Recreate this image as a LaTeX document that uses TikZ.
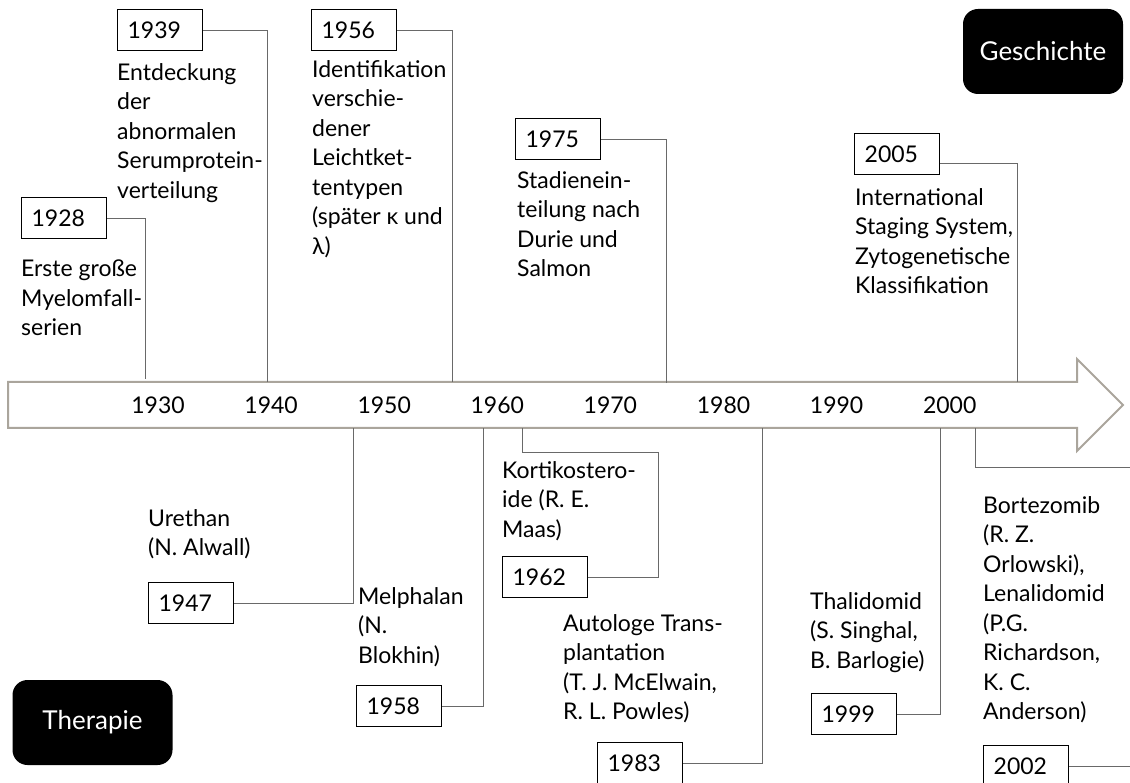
\documentclass[tikz,border=0pt]{standalone}
\usepackage{fontspec}
\setmainfont{Lato}
\usetikzlibrary{positioning}
\definecolor{axisgray}{RGB}{170,165,156}
\definecolor{linkgray}{RGB}{105,105,105}
\tikzset{
	every node/.style={font=\fontsize{23}{29.5}\selectfont},
	yearbox/.style={draw=black, line width=1.3pt, anchor=north west, minimum width=85pt, minimum height=41pt, inner xsep=10pt, text width=65pt, align=left},
	event/.style={anchor=north west, inner sep=0pt, align=left, execute at begin node=\strut},
	link/.style={draw=linkgray, line width=1pt},
	tag/.style={fill=black, text=white, rounded corners=15pt, minimum width=160pt, minimum height=85pt, font=\fontsize{26}{30}\selectfont}
}

\begin{document}
\begin{tikzpicture}[x=1pt,y=-1pt]
	\useasboundingbox (0,0) rectangle (1130,783);
	\draw[axisgray, line width=2pt, fill=white] (8,382) -- (1077,382) -- (1077,359) -- (1123,405) -- (1077,451) -- (1077,428) -- (8,428) -- cycle;
	\foreach \yr in {1930,1940,...,2000}
		\node (d\yr) at ({158+(\yr-1930)*11.31},405) {\yr};

	\coordinate (a1928) at (145,379);
	\coordinate (a1939) at (267,382);
	\coordinate (a1956) at (452,382);
	\coordinate (a1975) at (666,383);
	\coordinate (a2005) at (1017,382);
	\coordinate (a1947) at (353,428);
	\coordinate (a1958) at (483,428);
	\coordinate (a1962) at (522,428);
	\coordinate (a1983) at (762,428);
	\coordinate (a1999) at (940,428);
	\coordinate (a2002) at (975,428);
	\coordinate (k1962) at (658,452);
	\coordinate (e2002) at (1130,467);
	\coordinate (rim) at (1130,0);

	\node[yearbox] (y1928) at (21,197) {1928};
	\node[yearbox] (y1939) at (117,9) {1939};
	\node[yearbox] (y1956) at (311,9) {1956};
	\node[yearbox] (y1975) at (515,118) {1975};
	\node[yearbox] (y2005) at (854,133) {2005};
	\node[yearbox] (y1947) at (148,582) {1947};
	\node[yearbox] (y1958) at (356,685) {1958};
	\node[yearbox] (y1962) at (502,556) {1962};
	\node[yearbox] (y1983) at (597,742) {1983};
	\node[yearbox] (y1999) at (811,693) {1999};
	\node[yearbox] (y2002) at (983,745) {2002};

	\node[event] (t1928) at (21,260) {Erste große\\Myelomfall-\\serien};
	\node[event] (t1939) at (117,63) {Entdeckung\\der\\abnormalen\\Serumprotein-\\verteilung};
	\node[event] (t1956) at (312,60) {Identifikation\\verschie-\\dener\\Leichtket-\\tentypen\\(später κ und\\λ)};
	\node[event] (t1975) at (517,171) {Stadienein-\\teilung nach\\Durie und\\Salmon};
	\node[event] (t2005) at (855,188) {International\\Staging System,\\Zytogenetische\\Klassifikation};
	\node[event] (t1947) at (148,509) {Urethan\\(N. Alwall)};
	\node[event] (t1958) at (358,587) {Melphalan\\(N.\\Blokhin)};
	\node[event] (t1962) at (502,461) {Kortikostero-\\ide (R. E.\\Maas)};
	\node[event] (t1983) at (563,614) {Autologe Trans-\\plantation\\(T. J. McElwain,\\R. L. Powles)};
	\node[event] (t1999) at (810,592) {Thalidomid\\(S. Singhal,\\B. Barlogie)};
	\node[event] (t2002) at (983,496) {Bortezomib\\(R. Z.\\Orlowski),\\Lenalidomid\\(P.G.\\Richardson,\\K. C.\\Anderson)};

	\draw[link] (y1928.east) -| (a1928);
	\draw[link] (y1939.east) -| (a1939);
	\draw[link] (y1956.east) -| (a1956);
	\draw[link] (y1975.east) -| (a1975);
	\draw[link] ([yshift=-9.5pt]y2005.east) -| (a2005);
	\draw[link] (y1947.east) -| (a1947);
	\draw[link] (y1958.east) -| (a1958);
	\draw[link] (y1962.east) -| (k1962) -| (a1962);
	\draw[link] (y1983.east) -| (a1983);
	\draw[link] (y1999.east) -| (a1999);
	\draw[link] (a2002) |- (e2002);
	\draw[link] (y2002.east) -- (y2002.east -| rim);

	\node[tag] (hist) at (1043,51.5) {Geschichte};
	\node[tag] (ther) at (92.5,722.5) {Therapie};
\end{tikzpicture}
\end{document}
